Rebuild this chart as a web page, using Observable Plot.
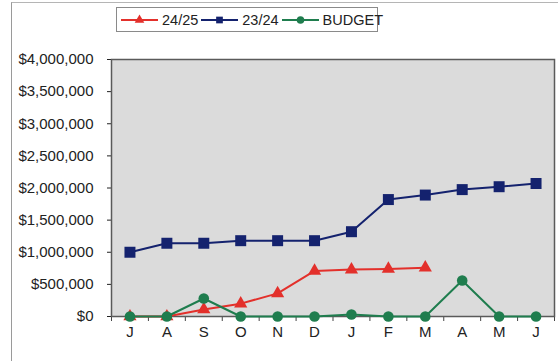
<!DOCTYPE html>
<html>
<head>
<meta charset="utf-8">
<script src="https://cdn.jsdelivr.net/npm/d3@7"></script>
<script src="https://cdn.jsdelivr.net/npm/@observablehq/plot@0.6"></script>
<style>
  body { margin: 0; background: #fff; font-family: "Liberation Sans", Arial, sans-serif; }
  #wrap { position: relative; width: 558px; height: 361px; overflow: hidden; background: #fff; }
  #sheet { position: absolute; left: 11px; top: 2px; width: 600px; height: 400px; border-left: 1px solid #9a9a9a; border-top: 1px solid #b5b5b5; }
  #chart { position: absolute; left: 0; top: 0; }
  #legend { position: absolute; left: 116px; top: 7px; width: 262px; height: 25px; border: 1px solid #8a8a8a; background: #fff;
            display: flex; align-items: center; padding-left: 4px; box-sizing: border-box; z-index: 2; font-size: 14.5px; color: #222; }
  .item { display: flex; align-items: center; margin-right: 3px; }
  .item svg { margin-right: 4px; }
</style>
</head>
<body>
<div id="wrap">
  <div id="sheet"></div>
  <div id="chart"></div>
  <div id="legend"></div>
</div>
<script>
// Monthly cumulative figures, financial year July–June
const months = ["J", "A", "S", "O", "N", "D", "J", "F", "M", "A", "M", "J"];
const fy2425 = [0, 0, 110000, 200000, 360000, 710000, 730000, 740000, 760000, null, null, null];
const fy2324 = [1000000, 1140000, 1140000, 1180000, 1180000, 1180000, 1320000, 1820000, 1890000, 1975000, 2020000, 2070000];
const budget = [0, 0, 280000, 0, 0, 0, 30000, 0, 0, 560000, 0, 0];
const yTicks = [0, 500000, 1000000, 1500000, 2000000, 2500000, 3000000, 3500000, 4000000];

const seriesNames = ["24/25", "23/24", "BUDGET"];
const seriesColors = ["#e3302b", "#14226e", "#1f7d4e"];
const seriesSymbols = ["triangle", "square", "circle"];
const seriesRadius = [4.9, 6.2, 5.3];
const seriesValues = [fy2425, fy2324, budget];

const series = seriesNames.map((name, k) => ({
  name,
  color: seriesColors[k],
  symbol: seriesSymbols[k],
  r: seriesRadius[k],
  rows: seriesValues[k].map((v, i) => ({i, v}))
}));

const marks = [
  Plot.frame({fill: "#dbdbdb", stroke: null}),
  Plot.axisY({ticks: yTicks, tickFormat: d => "$" + d3.format(",")(d), tickSize: 4, tickPadding: 14,
              fontSize: 15, color: "#222", label: null}),
  Plot.axisX({ticks: d3.range(months.length), tickFormat: i => months[i], tickSize: 0, tickPadding: 10,
              fontSize: 15, color: "#222", label: null}),
  Plot.axisX({ticks: d3.range(months.length + 1).map(i => i - 0.5), tickFormat: () => "", tickSize: 5,
              color: "#444", label: null}),
  Plot.frame({stroke: "#5a5a5a", strokeWidth: 1.5})
];
for (const s of series) {
  marks.push(Plot.line(s.rows, {x: "i", y: "v", stroke: s.color, strokeWidth: 2}));
  marks.push(Plot.dot(s.rows.filter(d => d.v != null),
    {x: "i", y: "v", symbol: s.symbol, r: s.r, fill: s.color, stroke: null}));
}

const chart = Plot.plot({
  width: 558,
  height: 361,
  marginLeft: 111,
  marginRight: 4,
  marginTop: 59,
  marginBottom: 45,
  x: {type: "linear", domain: [-0.5, months.length - 0.5]},
  y: {domain: [0, 4000000]},
  style: {fontFamily: "'Liberation Sans', Arial, sans-serif", fontSize: "15px", background: "transparent", overflow: "visible"},
  marks
});
document.getElementById("chart").appendChild(chart);

// Legend: line sample with its marker, then the series name
const legend = d3.select("#legend");
for (const s of series) {
  const item = legend.append("div").attr("class", "item");
  const svg = item.append("svg").attr("width", 37).attr("height", 12);
  svg.append("line").attr("x1", 0).attr("x2", 37).attr("y1", 6).attr("y2", 6)
    .attr("stroke", s.color).attr("stroke-width", 2);
  const type = s.symbol === "triangle" ? d3.symbolTriangle : s.symbol === "square" ? d3.symbolSquare : d3.symbolCircle;
  svg.append("path").attr("transform", "translate(18.5,6)")
    .attr("d", d3.symbol(type, s.symbol === "triangle" ? 40 : 45)()).attr("fill", s.color);
  item.append("span").text(s.name);
}
</script>
</body>
</html>
